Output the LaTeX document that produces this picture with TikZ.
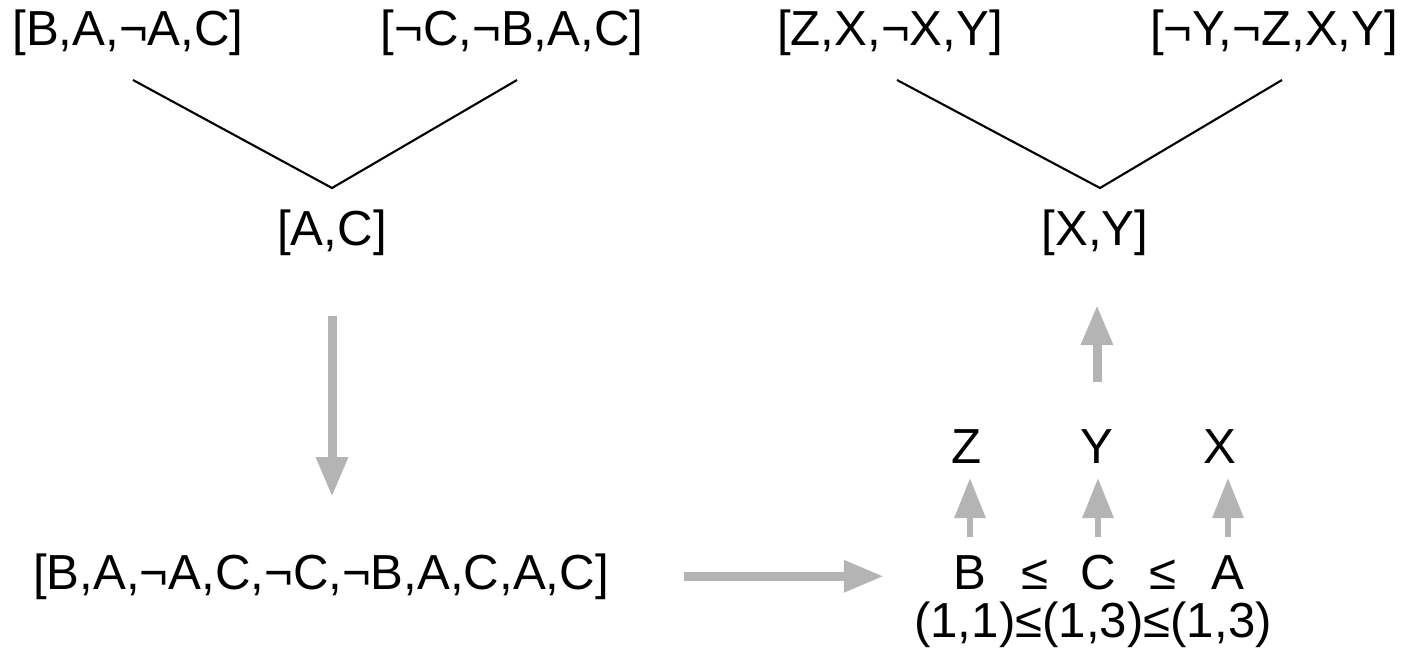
\documentclass[tikz,border=0pt]{standalone}
\usepackage{fontspec}
\setmainfont{Liberation Sans}
\usepackage{tikz}
\usetikzlibrary{arrows.meta, calc}
\definecolor{ResGray}{HTML}{B4B4B4}

\begin{document}
\begin{tikzpicture}[
    lit/.style={inner sep=0pt, anchor=base, font=\fontsize{14pt}{16pt}\selectfont},
    joinline/.style={black, line width=0.6pt},
    bigarrow/.style={ResGray, line width=0.09cm, -{Triangle[width=0.30cm,length=0.40cm]}},
    smallarrow/.style={ResGray, line width=0.06cm, -{Triangle[width=0.30cm,length=0.40cm]}}
  ]
      \useasboundingbox (0,0) rectangle (14.05,6.54);
      %% Left resolution
      \node[lit] (clauseBA) at (1.28,6.09) {[B,A,¬A,C]};
      \node[lit] (clauseCB) at (5.12,6.09) {[¬C,¬B,A,C]};
      \node[lit] (resAC) at (3.32,4.09) {[A,C]};
      \coordinate (joinAC) at ([yshift=0.57cm]resAC.base);
      \draw[joinline] ([shift={(0.05,-0.35)}]clauseBA.base) -- (joinAC)
                      -- ([shift={(0.05,-0.35)}]clauseCB.base);
      %% Right resolution
      \node[lit] (clauseZX) at (8.90,6.09) {[Z,X,¬X,Y]};
      \node[lit] (clauseYZ) at (12.74,6.09) {[¬Y,¬Z,X,Y]};
      \node[lit] (resXY) at (10.95,4.09) {[X,Y]};
      \coordinate (joinXY) at ([shift={(0.05,0.57)}]resXY.base);
      \draw[joinline] ([shift={(0.07,-0.35)}]clauseZX.base) -- (joinXY)
                      -- ([shift={(0.08,-0.35)}]clauseYZ.base);
      %% Concatenated list
      \node[lit] (concat) at (3.21,0.65) {[B,A,¬A,C,¬C,¬B,A,C,A,C]};
      \draw[bigarrow] ([yshift=-0.71cm]resAC.base) -- ([yshift=0.92cm]resAC.base |- concat.base);
      %% Ordering
      \node[lit] (ordB) at (9.70,0.65) {B};
      \node[lit] (leBC) at (10.35,0.65) {≤};
      \node[lit] (ordC) at (10.98,0.65) {C};
      \node[lit] (leCA) at (11.63,0.65) {≤};
      \node[lit] (ordA) at (12.28,0.65) {A};
      \node[lit] (pairs) at (10.93,0.17) {(1,1)≤(1,3)≤(1,3)};
      \draw[bigarrow] ([xshift=0.74cm]concat.east) -- ([xshift=-0.69cm]ordB.west |- concat.east);
      %% Renamed variables
      \node[lit] (varZ) at (9.67,1.91) {Z};
      \node[lit] (varY) at (10.97,1.91) {Y};
      \node[lit] (varX) at (12.20,1.91) {X};
      \draw[smallarrow] ([yshift=0.17cm]ordB.north) -- ([yshift=-0.15cm]ordB.north |- varZ.base);
      \draw[smallarrow] ([yshift=0.17cm]ordC.north) -- ([yshift=-0.15cm]ordC.north |- varY.base);
      \draw[smallarrow] ([yshift=0.17cm]ordA.north) -- ([yshift=-0.15cm]ordA.north |- varX.base);
      \draw[bigarrow] ([yshift=0.46cm]varY.north) -- ([yshift=-0.60cm]varY.north |- resXY.base);
\end{tikzpicture}
\end{document}
